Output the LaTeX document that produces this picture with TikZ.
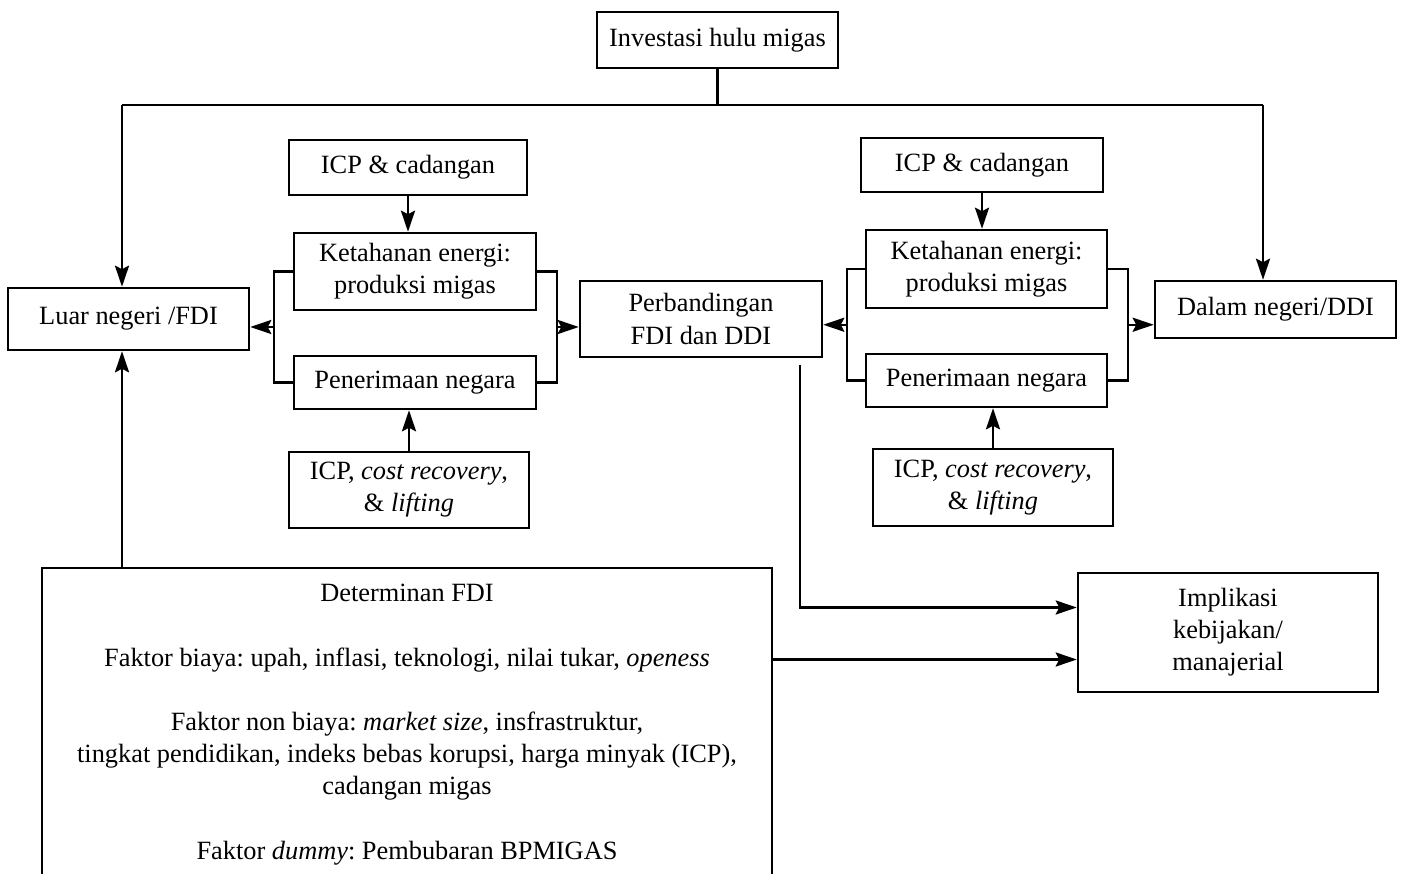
\documentclass[tikz,border=0pt]{standalone}
\usepackage{fontspec}
\setmainfont{Liberation Serif}
\usetikzlibrary{arrows.meta,calc}
\frenchspacing

\begin{document}
\begin{tikzpicture}[
    x=0.02cm, y=-0.02cm,
    box/.style={rectangle, draw, line width=1.4pt, align=center, inner sep=0pt, font=\fontsize{15}{18.3}\selectfont},
    line/.style={line width=1.4pt},
    arrow/.style={line, -{Stealth[length=12pt, width=8pt, inset=2pt]}},
    txt/.style={align=center, inner sep=0pt, font=\fontsize{15}{18.3}\selectfont}
]
\useasboundingbox (0,0) rectangle (1403,874);

% Top: investasi
\node[box, minimum width=241*0.02cm, minimum height=56*0.02cm] (inv) at (717.5,40) {Investasi hulu migas};
\node[box, minimum width=241*0.02cm, minimum height=62*0.02cm] (luar) at (128.5,319) {Luar negeri /FDI};
\node[box, minimum width=241*0.02cm, minimum height=57*0.02cm] (dalam) at (1275.5,309.5) {Dalam negeri/DDI};
\coordinate (topL) at (122,105);
\coordinate (topR) at (1263,105);
\draw[line] (inv.south) -- (inv.south |- topL);
\draw[line] (topL) -- (topR);
\draw[arrow] (topL) -- (topL |- luar.north);
\draw[arrow] (topR) -- (topR |- dalam.north);

% Left group
\node[box, minimum width=238*0.02cm, minimum height=55*0.02cm] (icpL) at (408,167.5) {ICP \& cadangan};
\node[box, minimum width=242*0.02cm, minimum height=77*0.02cm] (ketL) at (415,271.5) {Ketahanan energi:\\produksi migas};
\node[box, minimum width=242*0.02cm, minimum height=53*0.02cm] (penL) at (415,382.5) {Penerimaan negara};
\node[box, minimum width=240*0.02cm, minimum height=76*0.02cm] (icrL) at (409,490) {ICP, \textit{cost recovery},\\\& \textit{lifting}};
\draw[arrow] (icpL.south) -- (icpL.south |- ketL.north);
\draw[arrow] (icrL.north) -- (icrL.north |- penL.south);
\draw[line] (ketL.west) -- ++(-19,0) coordinate (bLa) |- (penL.west);
\draw[line] (ketL.east) -- ++(20,0) coordinate (bLb) |- (penL.east);
\coordinate (jLa) at ($(bLa)!0.5!(bLa |- penL.west)$);
\coordinate (jLb) at ($(bLb)!0.5!(bLb |- penL.east)$);
\draw[arrow] (jLa) -- (jLa -| luar.east);

% Middle
\node[box, minimum width=242*0.02cm, minimum height=76*0.02cm] (perb) at (701,319) {Perbandingan\\FDI dan DDI};
\draw[arrow] (jLb) -- (jLb -| perb.west);

% Right group
\node[box, minimum width=242*0.02cm, minimum height=54*0.02cm] (icpR) at (982,165) {ICP \& cadangan};
\node[box, minimum width=241*0.02cm, minimum height=78*0.02cm] (ketR) at (986.5,269) {Ketahanan energi:\\produksi migas};
\node[box, minimum width=241*0.02cm, minimum height=53*0.02cm] (penR) at (986.5,380.5) {Penerimaan negara};
\node[box, minimum width=240*0.02cm, minimum height=77*0.02cm] (icrR) at (993,487.5) {ICP, \textit{cost recovery},\\\& \textit{lifting}};
\draw[arrow] (icpR.south) -- (icpR.south |- ketR.north);
\draw[arrow] (icrR.north) -- (icrR.north |- penR.south);
\draw[line] (ketR.west) -- ++(-18,0) coordinate (bRa) |- (penR.west);
\draw[line] (ketR.east) -- ++(20,0) coordinate (bRb) |- (penR.east);
\coordinate (jRa) at ($(bRa)!0.5!(bRa |- penR.west)$);
\coordinate (jRb) at ($(bRb)!0.5!(bRb |- penR.east)$);
\draw[arrow] (jRa) -- (jRa -| perb.east);
\draw[arrow] (jRb) -- (jRb -| dalam.west);

% Bottom: determinan and implikasi
\node[box, minimum width=300*0.02cm, minimum height=119*0.02cm] (impl) at (1228,632.5) {Implikasi\\kebijakan/\\manajerial};
\node[box, anchor=north, minimum width=730*0.02cm, minimum height=340*0.02cm] (det) at (407,567) {};
\node[txt, anchor=north] (dettxt) at (407,584) {Determinan FDI\\[18.3pt]
    Faktor biaya: upah, inflasi, teknologi, nilai tukar, \textit{openess}\\[18.3pt]
    Faktor non biaya: \textit{market size}, insfrastruktur,\\
    tingkat pendidikan, indeks bebas korupsi, harga minyak (ICP),\\
    cadangan migas\\[18.3pt]
    Faktor \textit{dummy}: Pembubaran BPMIGAS};
\draw[arrow] (det.north -| topL) -- (topL |- luar.south);
\coordinate (pOut) at (800,365);
\coordinate (iUp) at ($(impl.west)+(0,-25)$);
\coordinate (iLow) at ($(impl.west)+(0,27)$);
\draw[arrow] (pOut) |- (iUp);
\draw[arrow] (iLow -| det.east) -- (iLow);

\end{tikzpicture}
\end{document}
